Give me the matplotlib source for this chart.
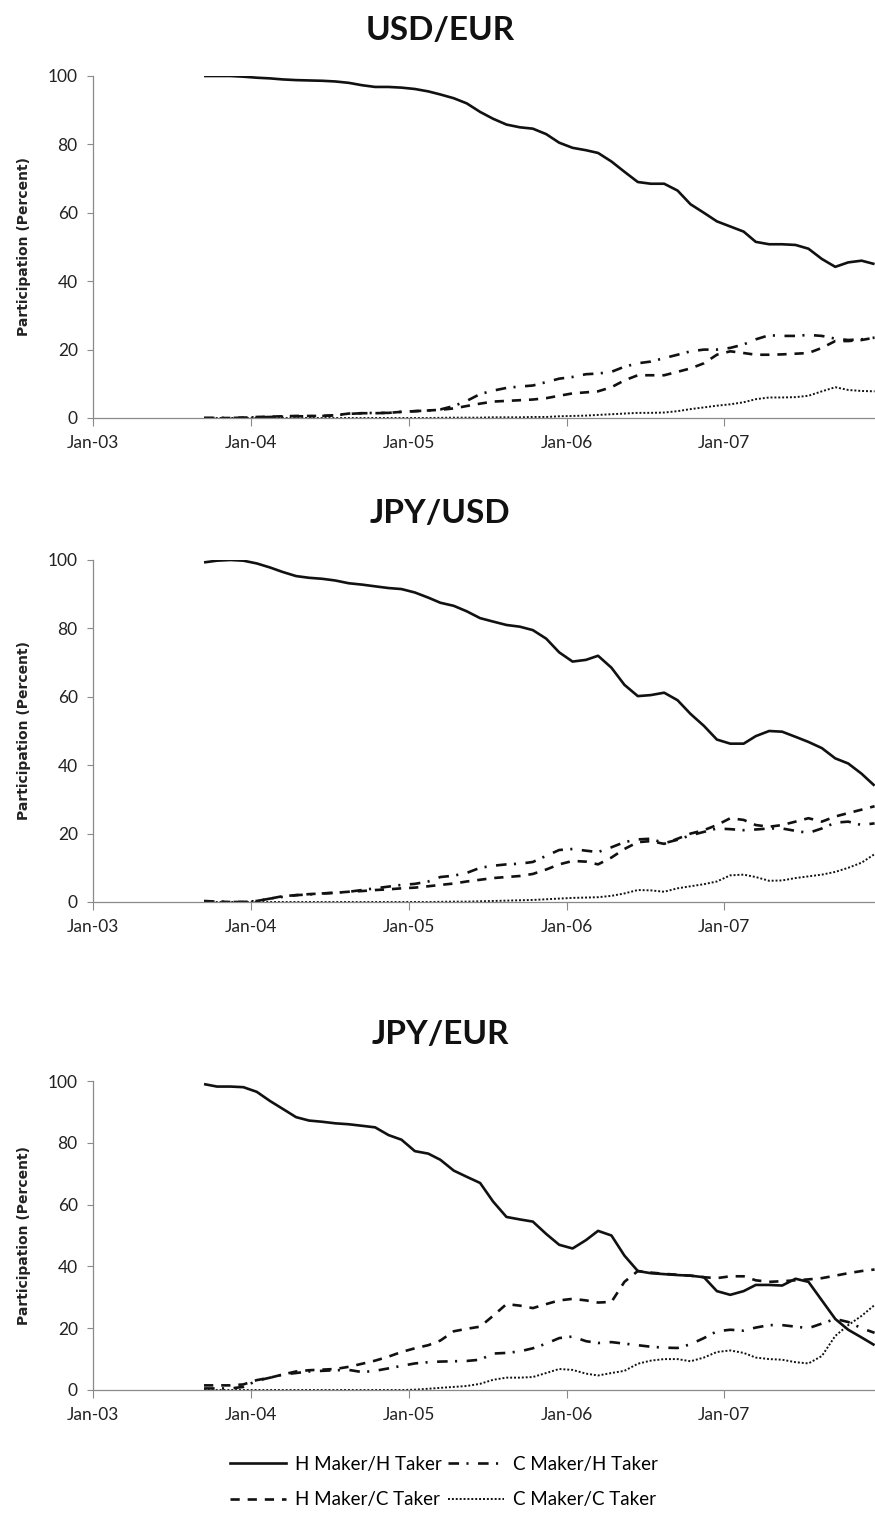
"""Share of trading by maker/taker type (human vs computer) for three currency pairs."""

import matplotlib.pyplot as plt
import matplotlib.dates as mdates
import pandas as pd
from matplotlib.lines import Line2D

plt.rcParams.update(
    {
        "font.family": ["Lato", "DejaVu Sans"],
        "font.size": 12.5,
        "axes.spines.top": False,
        "axes.spines.right": False,
        "axes.edgecolor": "#8a8a8a",
        "axes.linewidth": 0.9,
        "xtick.color": "#8a8a8a",
        "ytick.color": "#8a8a8a",
        "xtick.labelcolor": "#222222",
        "ytick.labelcolor": "#222222",
    }
)

# monthly readings, Sep 2003 .. Dec 2007
months = pd.date_range("2003-09-01", "2007-12-01", freq="MS") + pd.Timedelta(days=14)

usd_eur_hh = [100, 100, 100, 99.8,
              99.5, 99.3, 99.0, 98.8, 98.7, 98.6, 98.4, 98.0, 97.3, 96.8, 96.8, 96.6,
              96.2, 95.5, 94.6, 93.5, 92.0, 89.5, 87.5, 85.8, 85.0, 84.6, 83.0, 80.5,
              79.0, 78.3, 77.5, 75.0, 72.0, 69.0, 68.5, 68.5, 66.5, 62.5, 60.0, 57.5,
              56.0, 54.5, 51.5, 50.8, 50.8, 50.6, 49.5, 46.5, 44.2, 45.5, 46.0, 45.0]
usd_eur_ch = [0, 0, 0, 0.1,
              0.2, 0.3, 0.4, 0.5, 0.5, 0.6, 0.8, 1.2, 1.4, 1.5, 1.5, 1.8,
              2.0, 2.2, 2.5, 3.5, 5.0, 7.0, 8.0, 8.8, 9.2, 9.5, 10.5, 11.5,
              12.0, 12.8, 13.0, 13.5, 15.0, 16.0, 16.5, 17.5, 18.5, 19.5, 20.0, 20.0,
              20.5, 21.5, 23.0, 24.2, 24.0, 24.0, 24.3, 24.0, 23.2, 22.8, 23.0, 23.5]
usd_eur_hc = [0, 0, 0, 0.1,
              0.3, 0.4, 0.5, 0.6, 0.6, 0.6, 0.8, 1.3, 1.4, 1.4, 1.5, 1.8,
              2.0, 2.2, 2.4, 2.8, 3.5, 4.2, 4.8, 5.0, 5.2, 5.4, 5.8, 6.5,
              7.2, 7.5, 7.8, 9.0, 11.0, 12.5, 12.5, 12.5, 13.5, 14.5, 16.0, 18.5,
              19.5, 19.0, 18.5, 18.5, 18.6, 18.8, 19.0, 20.5, 22.5, 22.5, 22.8, 23.5]
usd_eur_cc = [0, 0, 0, 0,
              0, 0, 0, 0, 0, 0, 0, 0, 0, 0, 0, 0,
              0, 0, 0.05, 0.1, 0.1, 0.1, 0.2, 0.2, 0.2, 0.3, 0.3, 0.5,
              0.6, 0.7, 0.9, 1.1, 1.3, 1.5, 1.5, 1.6, 2.0, 2.6, 3.1, 3.6,
              4.0, 4.6, 5.5, 6.0, 6.0, 6.1, 6.5, 7.8, 9.0, 8.2, 7.9, 7.8]

jpy_usd_hh = [99.3, 99.8, 100, 99.8,
              99.0, 97.8, 96.5, 95.3, 94.8, 94.5, 94.0, 93.2, 92.8, 92.3, 91.8, 91.5,
              90.5, 89.0, 87.5, 86.6, 85.0, 83.0, 82.0, 81.0, 80.5, 79.5, 77.0, 73.0,
              70.3, 70.8, 72.0, 68.5, 63.5, 60.2, 60.5, 61.2, 59.0, 55.0, 51.5, 47.5,
              46.3, 46.3, 48.5, 50.0, 49.8, 48.3, 46.8, 45.0, 42.0, 40.5, 37.5, 34.0]
jpy_usd_ch = [0.2, 0.1, 0, 0,
              0.3, 1.0, 1.5, 2.0, 2.2, 2.5, 2.7, 3.0, 3.5, 4.0, 4.5, 5.0,
              5.3, 6.0, 7.3, 7.7, 8.5, 10.0, 10.6, 11.0, 11.2, 11.7, 13.5, 15.2,
              15.5, 15.0, 14.6, 16.0, 17.5, 18.3, 18.5, 17.2, 18.2, 19.5, 20.5, 21.5,
              21.3, 21.0, 21.2, 21.5, 21.5, 20.8, 20.2, 21.5, 23.2, 23.5, 22.5, 23.0]
jpy_usd_hc = [0.3, 0.1, 0, 0,
              0.3, 1.0, 1.7, 2.0, 2.3, 2.5, 2.7, 3.0, 3.2, 3.5, 3.7, 4.0,
              4.2, 4.6, 5.0, 5.4, 6.0, 6.5, 7.0, 7.3, 7.6, 8.2, 9.5, 11.0,
              12.0, 11.8, 11.0, 13.0, 15.5, 17.5, 17.8, 17.0, 18.5, 20.0, 21.0, 22.5,
              24.5, 24.0, 22.5, 22.0, 22.5, 23.5, 24.5, 23.5, 25.0, 26.0, 27.0, 28.0]
jpy_usd_cc = [0, 0, 0, 0,
              0, 0, 0, 0, 0, 0, 0, 0, 0, 0, 0, 0,
              0, 0, 0.05, 0.1, 0.1, 0.2, 0.3, 0.4, 0.5, 0.6, 0.8, 1.0,
              1.2, 1.3, 1.4, 1.8, 2.5, 3.5, 3.4, 3.0, 4.0, 4.6, 5.2, 6.0,
              7.8, 8.0, 7.3, 6.2, 6.3, 7.0, 7.5, 8.0, 8.8, 10.0, 11.5, 14.0]

jpy_eur_hh = [99.0, 98.2, 98.2, 98.0,
              96.5, 93.5, 91.0, 88.3, 87.2, 86.8, 86.3, 86.0, 85.5, 85.0, 82.5, 81.0,
              77.3, 76.5, 74.5, 71.0, 69.0, 67.0, 61.0, 56.0, 55.2, 54.5, 50.5, 47.0,
              45.8, 48.5, 51.5, 50.0, 43.5, 38.5, 37.8, 37.5, 37.2, 37.0, 36.5, 32.0,
              30.8, 32.0, 34.0, 34.0, 33.8, 36.0, 35.0, 29.0, 23.0, 19.5, 17.0, 14.5]
jpy_eur_ch = [0.5, 0.5, 0.5, 1.0,
              3.0, 4.0, 5.0, 5.5, 6.0, 6.2, 6.4, 6.5, 5.8, 6.2, 7.0, 7.8,
              8.6, 9.0, 9.2, 9.3, 9.4, 9.8, 11.8, 12.0, 12.5, 13.5, 15.0, 16.8,
              17.3, 15.8, 15.2, 15.5, 15.0, 14.5, 14.0, 13.7, 13.6, 14.8, 16.8, 19.0,
              19.5, 19.2, 20.2, 21.0, 21.0, 20.5, 20.0, 21.5, 23.0, 22.0, 20.0, 18.5]
jpy_eur_hc = [1.5, 1.5, 1.5, 1.8,
              3.2, 4.0, 5.0, 6.0, 6.4, 6.6, 6.8, 7.5, 8.5, 9.5, 10.8, 12.3,
              13.5, 14.5, 16.0, 19.0, 19.8, 20.5, 24.0, 27.8, 27.3, 26.5, 27.8, 29.0,
              29.5, 29.0, 28.3, 28.5, 35.0, 38.5, 38.0, 37.6, 37.3, 37.0, 36.5, 36.2,
              36.8, 36.8, 35.5, 35.0, 35.2, 35.5, 35.8, 36.2, 37.0, 37.8, 38.5, 39.0]
jpy_eur_cc = [0, 0, 0, 0,
              0, 0, 0, 0, 0, 0, 0, 0, 0, 0, 0, 0,
              0.1, 0.4, 0.7, 1.0, 1.3, 2.0, 3.3, 4.0, 4.0, 4.2, 5.5, 6.8,
              6.5, 5.3, 4.7, 5.5, 6.2, 8.5, 9.5, 10.0, 10.0, 9.3, 10.5, 12.3,
              12.8, 12.0, 10.5, 10.0, 9.8, 9.0, 8.6, 11.0, 17.5, 21.0, 24.0, 27.5]

labels = ["H Maker/H Taker", "H Maker/C Taker", "C Maker/H Taker", "C Maker/C Taker"]
styles = [
    dict(ls="-", lw=1.9),
    dict(ls=(0, (3.5, 3.0)), lw=1.9),
    dict(ls=(0, (4.0, 2.8, 0.8, 3.6)), lw=1.9),
    dict(ls=(0, (1.0, 1.0)), lw=1.4),
]

panels = [
    ("USD/EUR", [usd_eur_hh, usd_eur_hc, usd_eur_ch, usd_eur_cc], 76, 418, 30),
    ("JPY/USD", [jpy_usd_hh, jpy_usd_hc, jpy_usd_ch, jpy_usd_cc], 560, 902, 514),
    ("JPY/EUR", [jpy_eur_hh, jpy_eur_hc, jpy_eur_ch, jpy_eur_cc], 1081, 1390, 1034),
]

W, H = 875, 1515
fig = plt.figure(figsize=(W / 100, H / 100), dpi=100)

for title, series, top, bottom, title_y in panels:
    ax = fig.add_axes([93 / W, 1 - bottom / H, (W - 93) / W, (bottom - top) / H])
    for vals, st in zip(series, styles):
        ax.plot(months, vals, color="#111111", solid_capstyle="butt",
                dash_capstyle="butt", **st)
    ax.set_ylim(0, 100)
    ax.set_yticks([0, 20, 40, 60, 80, 100])
    ax.set_xlim(pd.Timestamp("2003-01-01"), pd.Timestamp("2007-12-16"))
    ax.xaxis.set_major_locator(mdates.YearLocator())
    ax.xaxis.set_major_formatter(mdates.DateFormatter("%b-%y"))
    ax.tick_params(axis="y", length=4, pad=7)
    ax.tick_params(axis="x", length=6, pad=6)
    ax.set_ylabel("Participation (Percent)", family="DejaVu Sans",
                  fontweight="bold", fontsize=10, color="#222222")
    ax.yaxis.set_label_coords((31 - 93) / (W - 93), 0.5)
    fig.text(440 / W, 1 - title_y / H, title, ha="center", va="center",
             fontsize=24, fontweight="bold", color="#111111")

handles = [Line2D([], [], color="#111111", **st) for st in styles]
fig.legend(handles, labels, loc="center", ncol=2, frameon=False,
           bbox_to_anchor=(444 / W, 1 - 1482 / H), fontsize=13.5,
           handlelength=3.0, handletextpad=0.45, columnspacing=0.35,
           labelspacing=1.0)

fig.savefig("out.png", dpi=100)
